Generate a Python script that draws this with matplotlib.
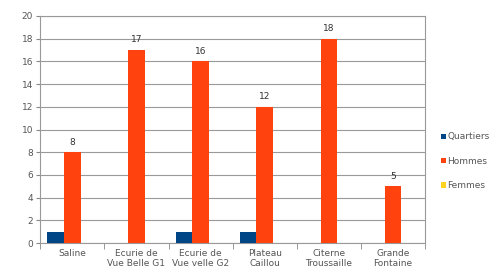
import numpy as np
import matplotlib.pyplot as plt

# data
categories = ["Saline", "Ecurie de\nVue Belle G1", "Ecurie de\nVue velle G2",
              "Plateau\nCaillou", "Citerne\nTroussaille", "Grande\nFontaine"]
quartiers = [1, 0, 1, 1, 0, 0]
hommes = [8, 17, 16, 12, 18, 5]
femmes = [0, 0, 0, 0, 0, 0]
yticks = [0, 2, 4, 6, 8, 10, 12, 14, 16, 18, 20]

fig = plt.figure(figsize=(5.02, 2.75), dpi=100)
ax = fig.add_axes([0.08, 0.116, 0.767, 0.826])

x = np.arange(len(categories))
w = 0.26
ax.bar(x - w, quartiers, w, color="#004586", label="Quartiers", zorder=3)
ax.bar(x, hommes, w, color="#ff420e", label="Hommes", zorder=3)
ax.bar(x + w, femmes, w, color="#ffd320", label="Femmes", zorder=3)

for xi, v in zip(x, hommes):
    ax.text(xi, v + 0.5, str(v), ha="center", va="bottom", fontsize=6.5, color="#333333")

ax.set_xlim(-0.5, len(categories) - 0.5)
ax.set_ylim(0, 20)
ax.set_yticks(yticks)
ax.set_yticklabels([str(t) for t in yticks], fontsize=6.5, color="#555555")
ax.set_xticks(x)
ax.set_xticklabels(categories, fontsize=6.5, color="#555555")
ax.tick_params(axis="x", length=0, pad=4)
ax.set_xticks(np.arange(-0.5, len(categories), 1), minor=True)
ax.tick_params(axis="x", which="minor", length=4, color="#888888")
ax.tick_params(axis="y", length=3, color="#888888", pad=2)
ax.grid(axis="y", color="#999999", linewidth=0.8, zorder=0)
for s in ax.spines.values():
    s.set_color("#999999")

ax.legend(loc="center left", bbox_to_anchor=(1.02, 0.36), frameon=False,
          fontsize=6.5, handlelength=0.5, handleheight=0.5, handletextpad=0.2,
          labelspacing=1.7, labelcolor="#555555")

fig.savefig("out.png", dpi=100)
